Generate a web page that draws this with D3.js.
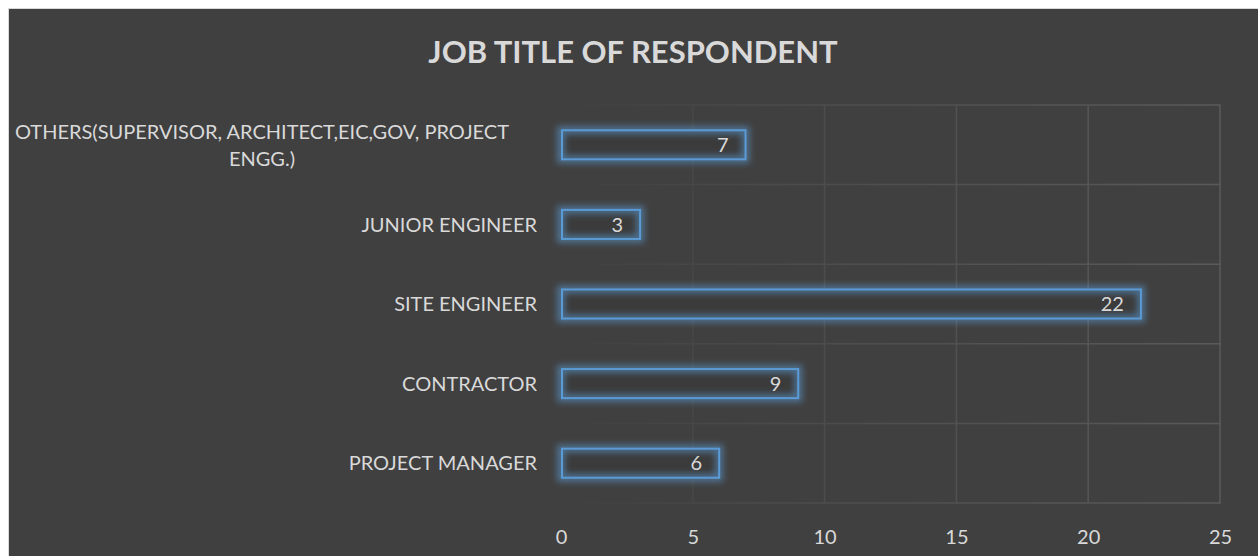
<!DOCTYPE html>
<html><head><meta charset="utf-8">
<script src="https://cdn.jsdelivr.net/npm/d3@7"></script>
<style>
html,body{margin:0;padding:0;background:#fff;}
svg{display:block;}
text{font-family:Lato,"Open Sans",sans-serif;}
</style></head>
<body>
<svg id="chart" width="1258" height="556"></svg>
<script>
const title = "JOB TITLE OF RESPONDENT";
const categories = ["PROJECT MANAGER","CONTRACTOR","SITE ENGINEER","JUNIOR ENGINEER","OTHERS(SUPERVISOR, ARCHITECT,EIC,GOV, PROJECT ENGG.)"];
const values = [6, 9, 22, 3, 7];
const xTicks = [0, 5, 10, 15, 20, 25];

const W = 1258, H = 556;
const plot = {left: 561, right: 1220, top: 105, bottom: 503};
const svg = d3.select("#chart");
const defs = svg.append("defs");

const glow = defs.append("filter").attr("id","glow")
  .attr("x","-20%").attr("y","-80%").attr("width","140%").attr("height","260%");
glow.append("feGaussianBlur").attr("stdDeviation", 3.2);

const grad = defs.append("linearGradient").attr("id","gridGrad")
  .attr("gradientUnits","userSpaceOnUse")
  .attr("x1", plot.left).attr("x2", plot.right).attr("y1",0).attr("y2",0);
grad.append("stop").attr("offset","0%").attr("stop-color","#404040");
grad.append("stop").attr("offset","30%").attr("stop-color","#4a4a4a");
grad.append("stop").attr("offset","100%").attr("stop-color","#5a5a5a");

// chart area
svg.append("rect").attr("x",8.5).attr("y",8.5).attr("width",W).attr("height",H)
  .attr("fill","#404040").attr("stroke","#d9d9d9").attr("stroke-width",1);

const x = d3.scaleLinear().domain([0,25]).range([plot.left, plot.right]);
const y = d3.scaleBand().domain(categories.slice().reverse()).range([plot.top, plot.bottom]).padding(0);
const barH = y.bandwidth()*0.365;

// gridlines
const gv = svg.append("g");
gv.selectAll("line.v").data(xTicks.filter(d=>d>0)).join("line")
  .attr("x1", d=>x(d)).attr("x2", d=>x(d)).attr("y1", plot.top).attr("y2", plot.bottom)
  .attr("stroke","url(#gridGrad)").attr("stroke-width",1.5);
const hBounds = categories.map(c=>y(c)).concat([plot.bottom]);
gv.selectAll("line.h").data(hBounds).join("line")
  .attr("x1", plot.left).attr("x2", plot.right+0.75).attr("y1", d=>d).attr("y2", d=>d)
  .attr("stroke","url(#gridGrad)").attr("stroke-width",1.5);

// x axis tick labels
const xAxis = d3.axisBottom(x).tickValues(xTicks).tickSize(0).tickPadding(0);
const gx = svg.append("g").attr("transform", `translate(0,${plot.bottom})`).call(xAxis);
gx.select(".domain").remove();
gx.selectAll("text").attr("fill","#d9d9d9").attr("font-size",20)
  .attr("font-family","Lato, sans-serif").attr("dy",null).attr("y",41);

// bars
const data = categories.map((c,i)=>({c, v: values[i]}));
const gb = svg.append("g");
const barY = d=>y(d.c)+y.bandwidth()/2-barH/2;
gb.selectAll("rect.fill").data(data).join("rect")
  .attr("x", x(0)+1).attr("y", barY)
  .attr("width", d=>x(d.v)-x(0)-1).attr("height", barH)
  .attr("fill","#3b3b3b");
gb.selectAll("rect.glow").data(data).join("rect")
  .attr("x", x(0)).attr("y", barY)
  .attr("width", d=>x(d.v)-x(0)).attr("height", barH)
  .attr("fill","none").attr("stroke","#5b9bd5").attr("stroke-width",8).attr("stroke-opacity",0.55)
  .attr("filter","url(#glow)");
gb.selectAll("rect.bar").data(data).join("rect")
  .attr("x", x(0)+1).attr("y", barY)
  .attr("width", d=>x(d.v)-x(0)-1).attr("height", barH)
  .attr("fill","none").attr("stroke","#5b9bd5").attr("stroke-width",2);
gb.selectAll("text.val").data(data).join("text")
  .attr("x", d=>x(d.v)-17).attr("y", d=>y(d.c)+y.bandwidth()/2)
  .attr("dy","0.36em").attr("text-anchor","end")
  .attr("fill","#d9d9d9").attr("font-size",20).text(d=>d.v);

// category labels
const gl = svg.append("g");
const labelRight = 537, maxLabelW = 520, wrapCenter = 262;
data.forEach(d=>{
  const cy = y(d.c)+y.bandwidth()/2;
  const t = gl.append("text").attr("fill","#d9d9d9").attr("font-size",20).text(d.c);
  if (t.node().getComputedTextLength() <= maxLabelW) {
    t.attr("x",labelRight).attr("y",cy).attr("dy","0.36em").attr("text-anchor","end");
  } else {
    t.text(null);
    const words = d.c.split(" ");
    const lines = []; let cur = [];
    const probe = gl.append("text").attr("font-size",20);
    words.forEach(w=>{
      const test = cur.concat([w]).join(" ");
      probe.text(test);
      if (probe.node().getComputedTextLength() > maxLabelW && cur.length){ lines.push(cur.join(" ")); cur=[w]; }
      else cur.push(w);
    });
    lines.push(cur.join(" "));
    probe.remove();
    const lh = 27;
    t.attr("text-anchor","middle");
    lines.forEach((ln,i)=>{
      t.append("tspan").attr("x",wrapCenter)
        .attr("y", cy + (i-(lines.length-1)/2)*lh).attr("dy","0.36em").text(ln);
    });
  }
});

// title
svg.append("text").attr("x", 633).attr("y", 52).attr("dy","0.36em")
  .attr("text-anchor","middle").attr("fill","#d9d9d9").attr("font-weight","bold")
  .attr("font-size",31).text(title);
</script>
</body></html>
